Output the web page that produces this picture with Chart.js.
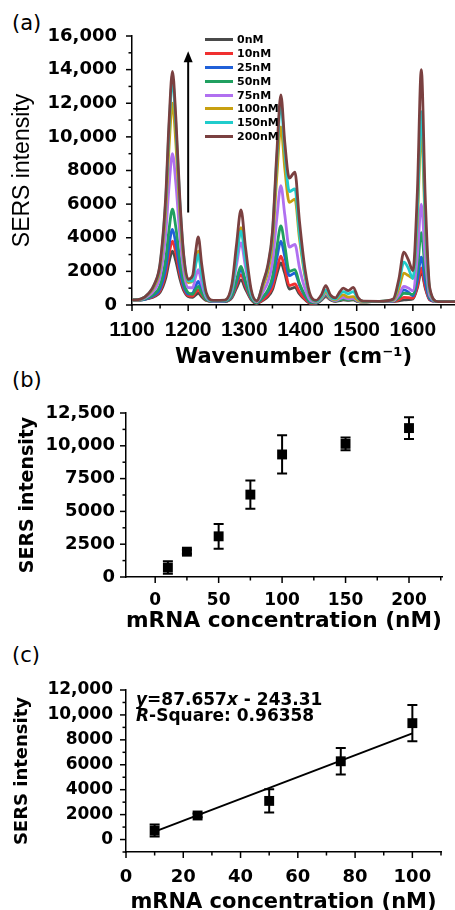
<!DOCTYPE html>
<html>
<head>
<meta charset="utf-8">
<script src="https://cdn.jsdelivr.net/npm/chart.js@4.4.1/dist/chart.umd.min.js"></script>
<style>
  html, body { margin: 0; padding: 0; background: #fff; }
  body { width: 455px; height: 910px; position: relative; overflow: hidden; font-family: "DejaVu Sans", sans-serif; color: #000; }
  .panel { position: absolute; left: 0; }
  .tag { position: absolute; left: 12px; font-size: 21px; line-height: 21px; }
  #legend { position: absolute; left: 205px; top: 33px; font: bold 11px "DejaVu Sans", sans-serif; }
  #legend .row { height: 13.8px; display: flex; align-items: center; }
  #legend .sw { width: 28px; height: 3px; margin-right: 4px; }
  #fitText { position: absolute; left: 136px; top: 691px; font: bold 17px/16px "DejaVu Sans", sans-serif; white-space: nowrap; }
</style>
</head>
<body>
<div class="tag" style="top:13px">(a)</div>
<div class="tag" style="top:370px">(b)</div>
<div class="tag" style="top:645px">(c)</div>

<div class="panel" style="top:16px"><canvas id="spectra" width="455" height="354"></canvas></div>
<div class="panel" style="top:393px"><canvas id="doseChart" width="455" height="241"></canvas></div>
<div class="panel" style="top:670px"><canvas id="fitChart" width="455" height="245"></canvas></div>

<div id="legend"></div>
<div id="fitText"><i>y</i>=87.657<i>x</i> - 243.31<br><i>R</i>-Square: 0.96358</div>

<script>
// ---- data ----
const waveNumbers = [1100,1115,1130,1140,1150,1160,1166,1172,1178,1185,1192,1200,1208,1213,1218,1224,1232,1245,1265,1278,
  1286,1294,1302,1312,1322,1334,1342,1350,1358,1365,1372,1380,1390,1398,1408,1418,1428,1437,1445,1453,
  1462,1470,1476,1485,1494,1502,1512,1540,1565,1575,1584,1592,1600,1608,1615,1622,1630,1645,1675];

const spectrumLabels = ["0nM", "10nM", "25nM", "50nM", "75nM", "100nM", "150nM", "200nM"];
const spectrumColors = ["#4a4a4a", "#f03030", "#2060d8", "#20a060", "#b070f0", "#c8a010", "#20cccc", "#7a4040"];

const s0 = [300,295,390,500,760,1600,2560,3200,2620,1600,860,500,450,590,700,490,270,210,210,440,
  1000,1500,950,320,100,290,500,910,1860,2500,1880,950,1050,660,310,100,110,280,500,310,
  220,260,300,270,300,200,190,220,210,250,300,320,360,1020,2000,1010,310,200,200];
const s10 = [300,300,405,545,860,1875,3030,3800,3100,1875,980,560,530,740,900,610,300,210,210,500,
  1180,1800,1130,365,110,350,600,1070,2150,2900,2180,1150,1250,780,360,115,115,300,550,330,
  230,300,350,310,350,220,190,220,210,310,450,435,410,1125,2200,1100,320,200,200];
const s25 = [300,300,425,595,970,2190,3575,4500,3660,2190,1120,645,700,1100,1400,900,370,220,220,555,
  1365,2100,1310,410,130,480,800,1390,2815,3800,2880,1750,1900,1195,535,155,130,325,600,355,
  245,340,400,350,400,240,195,220,235,515,900,770,550,1465,2850,1395,360,200,200];
const s50 = [300,305,460,680,1165,2730,4510,5700,4620,2730,1360,725,640,905,1100,715,325,215,225,595,
  1490,2300,1430,440,135,520,900,1665,3465,4700,3520,2000,2100,1295,575,165,130,325,600,355,
  235,300,350,310,350,220,190,220,225,425,700,675,630,2095,4300,2045,445,200,200];
const s75 = [300,325,560,910,1690,4215,7085,9000,7260,4215,2020,1035,1025,1640,2100,1290,465,235,250,875,
  2360,3700,2270,650,190,830,1400,2520,5225,7100,5365,3450,3600,2240,965,255,165,375,700,400,
  265,375,450,370,400,240,195,220,245,605,1100,1005,845,2900,6000,2810,550,200,200];
const s100 = [300,340,650,1120,2170,5565,9425,12000,9660,5565,2620,1330,1435,2450,3200,1930,630,255,270,1055,
  2915,4600,2810,785,235,1175,2000,3680,7760,10600,8135,6100,6300,3980,1695,430,220,425,800,445,
  305,490,600,470,500,275,200,220,285,965,1900,1750,1600,4960,10400,4790,810,200,200];
const s150 = [300,345,695,1215,2395,6195,10520,13400,10780,6195,2900,1430,1420,2335,3000,1810,600,255,265,1015,
  2795,4400,2690,755,245,1360,2300,4190,8795,12000,9155,6750,6900,4275,1810,455,235,475,900,490,
  355,640,800,670,800,380,215,220,320,1260,2550,2185,1575,5520,11500,5285,880,200,200];
const s200 = [300,350,710,1250,2475,6420,10910,13900,11180,6420,3000,1525,1750,3080,4050,2440,755,275,290,1265,
  3570,5650,3440,940,250,1425,2400,4345,9145,12500,9655,7550,7900,5020,2130,540,280,600,1150,600,
  420,790,1000,850,1050,465,225,220,350,1530,3150,2680,2050,6705,14000,6410,1030,200,200];
const spectra = [s0, s10, s25, s50, s75, s100, s150, s200];

const concX = [10, 25, 50, 75, 100, 150, 200];
const sersMean = [720, 1930, 3100, 6280, 9340, 10150, 11350];
const sersErr = [480, 150, 940, 1070, 1460, 480, 830];
const fitX = [10, 100];
const fitY = [633, 8522];

const specXTicks = [1100,1150,1200,1250,1300,1350,1400,1450,1500,1550,1600,1650];
const specYTicks = [0,1000,2000,3000,4000,5000,6000,7000,8000,9000,10000,11000,12000,13000,14000,15000,16000];
const doseXTicks = [0,25,50,75,100,125,150,175,200,225];
const doseYTicks = [0,1250,2500,3750,5000,6250,7500,8750,10000,11250,12500];
const fitXTicks = [0,10,20,30,40,50,60,70,80,90,100,110];
const fitYTicks = [-1000,0,1000,2000,3000,4000,5000,6000,7000,8000,9000,10000,11000,12000];

// ---- helpers ----
Chart.defaults.font.family = '"DejaVu Sans", sans-serif';
Chart.defaults.color = "#000";
Chart.defaults.animation = false;

const fmt = v => (v >= 10000 ? v.toLocaleString("en-US") : String(v));

function axis(c) {
  return {
    type: "linear",
    min: c.min,
    max: c.max,
    afterBuildTicks: s => { s.ticks = c.ticks.map(v => ({ value: v })); },
    afterFit: s => { if (c.isX) s.height = c.size; else s.width = c.size; },
    ticks: {
      autoSkip: false, maxRotation: 0, padding: c.pad, color: "#000", font: c.font,
      callback: v => (c.major(v) ? fmt(v) : "")
    },
    grid: { display: false, drawTicks: true, tickLength: 7 },
    border: { display: true, color: "#000", width: 1.5 },
    title: { display: true, text: c.title, color: "#000", font: c.titleFont, padding: c.titlePad }
  };
}

// outward tick marks, long for labelled ticks, short for minor ones
const tickMarks = {
  id: "tickMarks",
  afterDraw(chart) {
    const { ctx, scales: { x, y } } = chart;
    ctx.save();
    ctx.strokeStyle = "#000";
    ctx.lineWidth = 1.5;
    x.ticks.forEach(t => {
      const px = x.getPixelForValue(t.value);
      const len = t.label !== "" ? 6 : 3.5;
      ctx.beginPath(); ctx.moveTo(px, x.top); ctx.lineTo(px, x.top + len); ctx.stroke();
    });
    y.ticks.forEach(t => {
      const py = y.getPixelForValue(t.value);
      const len = t.label !== "" ? 6 : 3.5;
      ctx.beginPath(); ctx.moveTo(y.right, py); ctx.lineTo(y.right - len, py); ctx.stroke();
    });
    ctx.restore();
  }
};

const errorBars = {
  id: "errorBars",
  beforeDatasetsDraw(chart) {
    const { ctx, scales: { x, y } } = chart;
    ctx.save();
    ctx.strokeStyle = "#000";
    ctx.lineWidth = 2;
    chart.data.datasets.forEach(ds => {
      if (!ds.errors) return;
      ds.data.forEach((p, j) => {
        const px = x.getPixelForValue(p.x);
        const top = y.getPixelForValue(p.y + ds.errors[j]);
        const bot = y.getPixelForValue(p.y - ds.errors[j]);
        ctx.beginPath();
        ctx.moveTo(px, top); ctx.lineTo(px, bot);
        ctx.moveTo(px - 5, top); ctx.lineTo(px + 5, top);
        ctx.moveTo(px - 5, bot); ctx.lineTo(px + 5, bot);
        ctx.stroke();
      });
    });
    ctx.restore();
  }
};

const arrow = {
  id: "arrow",
  afterDatasetsDraw(chart, args, o) {
    const { ctx, scales: { x, y } } = chart;
    const px = x.getPixelForValue(o.x);
    const y0 = y.getPixelForValue(o.from);
    const y1 = y.getPixelForValue(o.to);
    ctx.save();
    ctx.strokeStyle = "#000";
    ctx.fillStyle = "#000";
    ctx.lineWidth = 2;
    ctx.beginPath(); ctx.moveTo(px, y0); ctx.lineTo(px, y1 + 8); ctx.stroke();
    ctx.beginPath(); ctx.moveTo(px, y1); ctx.lineTo(px - 4.5, y1 + 11); ctx.lineTo(px + 4.5, y1 + 11); ctx.closePath(); ctx.fill();
    ctx.restore();
  }
};

// ---- (a) SERS spectra ----
const spectraChart = new Chart(document.getElementById("spectra"), {
  type: "line",
  data: {
    datasets: spectra.map((s, i) => ({
      label: spectrumLabels[i],
      data: waveNumbers.map((w, j) => ({ x: w, y: s[j] })),
      borderColor: spectrumColors[i],
      borderWidth: 2.8,
      pointRadius: 0,
      cubicInterpolationMode: "monotone",
      fill: false,
      order: spectra.length - i
    }))
  },
  options: {
    responsive: false,
    layout: { padding: { top: 20, right: 0, bottom: 0, left: 0 } },
    plugins: {
      legend: { display: false },
      tooltip: { enabled: false },
      arrow: { x: 1200, from: 5500, to: 15100 }
    },
    scales: {
      x: axis({ isX: true, min: 1100, max: 1675, ticks: specXTicks, major: v => v % 100 === 0, size: 65, pad: 6,
        font: { family: '"Liberation Sans", Arial, sans-serif', weight: "bold", size: 21 },
        title: "Wavenumber (cm\u207B\u00B9)", titleFont: { weight: "bold", size: 21 }, titlePad: { top: 0, bottom: 0 } }),
      y: axis({ min: 0, max: 16000, ticks: specYTicks, major: v => v % 2000 === 0, size: 132, pad: 8,
        font: { weight: "bold", size: 18 },
        title: "SERS intensity", titleFont: { family: '"Liberation Sans", Arial, sans-serif', weight: "normal", size: 23 },
        titlePad: { top: 9, bottom: 0 } })
    }
  },
  plugins: [tickMarks, arrow]
});

// html legend from the datasets
const legend = document.getElementById("legend");
spectraChart.data.datasets.forEach(ds => {
  const row = document.createElement("div");
  row.className = "row";
  row.innerHTML = '<span class="sw" style="background:' + ds.borderColor + '"></span>' + ds.label;
  legend.appendChild(row);
});

// ---- (b) intensity vs concentration ----
new Chart(document.getElementById("doseChart"), {
  type: "scatter",
  data: {
    datasets: [{
      data: concX.map((c, i) => ({ x: c, y: sersMean[i] })),
      errors: sersErr,
      pointStyle: "rect", pointRadius: 7, backgroundColor: "#000", borderWidth: 0
    }]
  },
  options: {
    responsive: false,
    layout: { padding: { top: 20, right: 13, bottom: 0, left: 0 } },
    plugins: { legend: { display: false }, tooltip: { enabled: false } },
    scales: {
      x: axis({ isX: true, min: -23, max: 226, ticks: doseXTicks, major: v => v % 50 === 0, size: 57, pad: 6,
        font: { weight: "bold", size: 17 },
        title: "mRNA concentration (nM)", titleFont: { weight: "bold", size: 22 }, titlePad: { top: 0, bottom: 0 } }),
      y: axis({ min: 0, max: 12500, ticks: doseYTicks, major: v => v % 2500 === 0, size: 126, pad: 4,
        font: { weight: "bold", size: 18 },
        title: "SERS intensity", titleFont: { weight: "bold", size: 19 }, titlePad: { top: 17, bottom: 0 } })
    }
  },
  plugins: [tickMarks, errorBars]
});

// ---- (c) linear range with fit ----
new Chart(document.getElementById("fitChart"), {
  type: "scatter",
  data: {
    datasets: [
      {
        data: concX.slice(0, 5).map((c, i) => ({ x: c, y: sersMean[i] })),
        errors: sersErr.slice(0, 5),
        pointStyle: "rect", pointRadius: 7, backgroundColor: "#000", borderWidth: 0
      },
      {
        type: "line",
        data: fitX.map((c, i) => ({ x: c, y: fitY[i] })),
        borderColor: "#000", borderWidth: 2, pointRadius: 0
      }
    ]
  },
  options: {
    responsive: false,
    layout: { padding: { top: 20, right: 14, bottom: 0, left: 0 } },
    plugins: { legend: { display: false }, tooltip: { enabled: false } },
    scales: {
      x: axis({ isX: true, min: 0, max: 110, ticks: fitXTicks, major: v => v % 20 === 0, size: 63, pad: 8,
        font: { weight: "bold", size: 18 },
        title: "mRNA concentration (nM)", titleFont: { weight: "bold", size: 21 }, titlePad: { top: 0, bottom: 0 } }),
      y: axis({ min: -1000, max: 12000, ticks: fitYTicks, major: v => v >= 0 && v % 2000 === 0, size: 126, pad: 6,
        font: { weight: "bold", size: 17 },
        title: "SERS intensity", titleFont: { weight: "bold", size: 18 }, titlePad: { top: 12, bottom: 0 } })
    }
  },
  plugins: [tickMarks, errorBars]
});
</script>
</body>
</html>
